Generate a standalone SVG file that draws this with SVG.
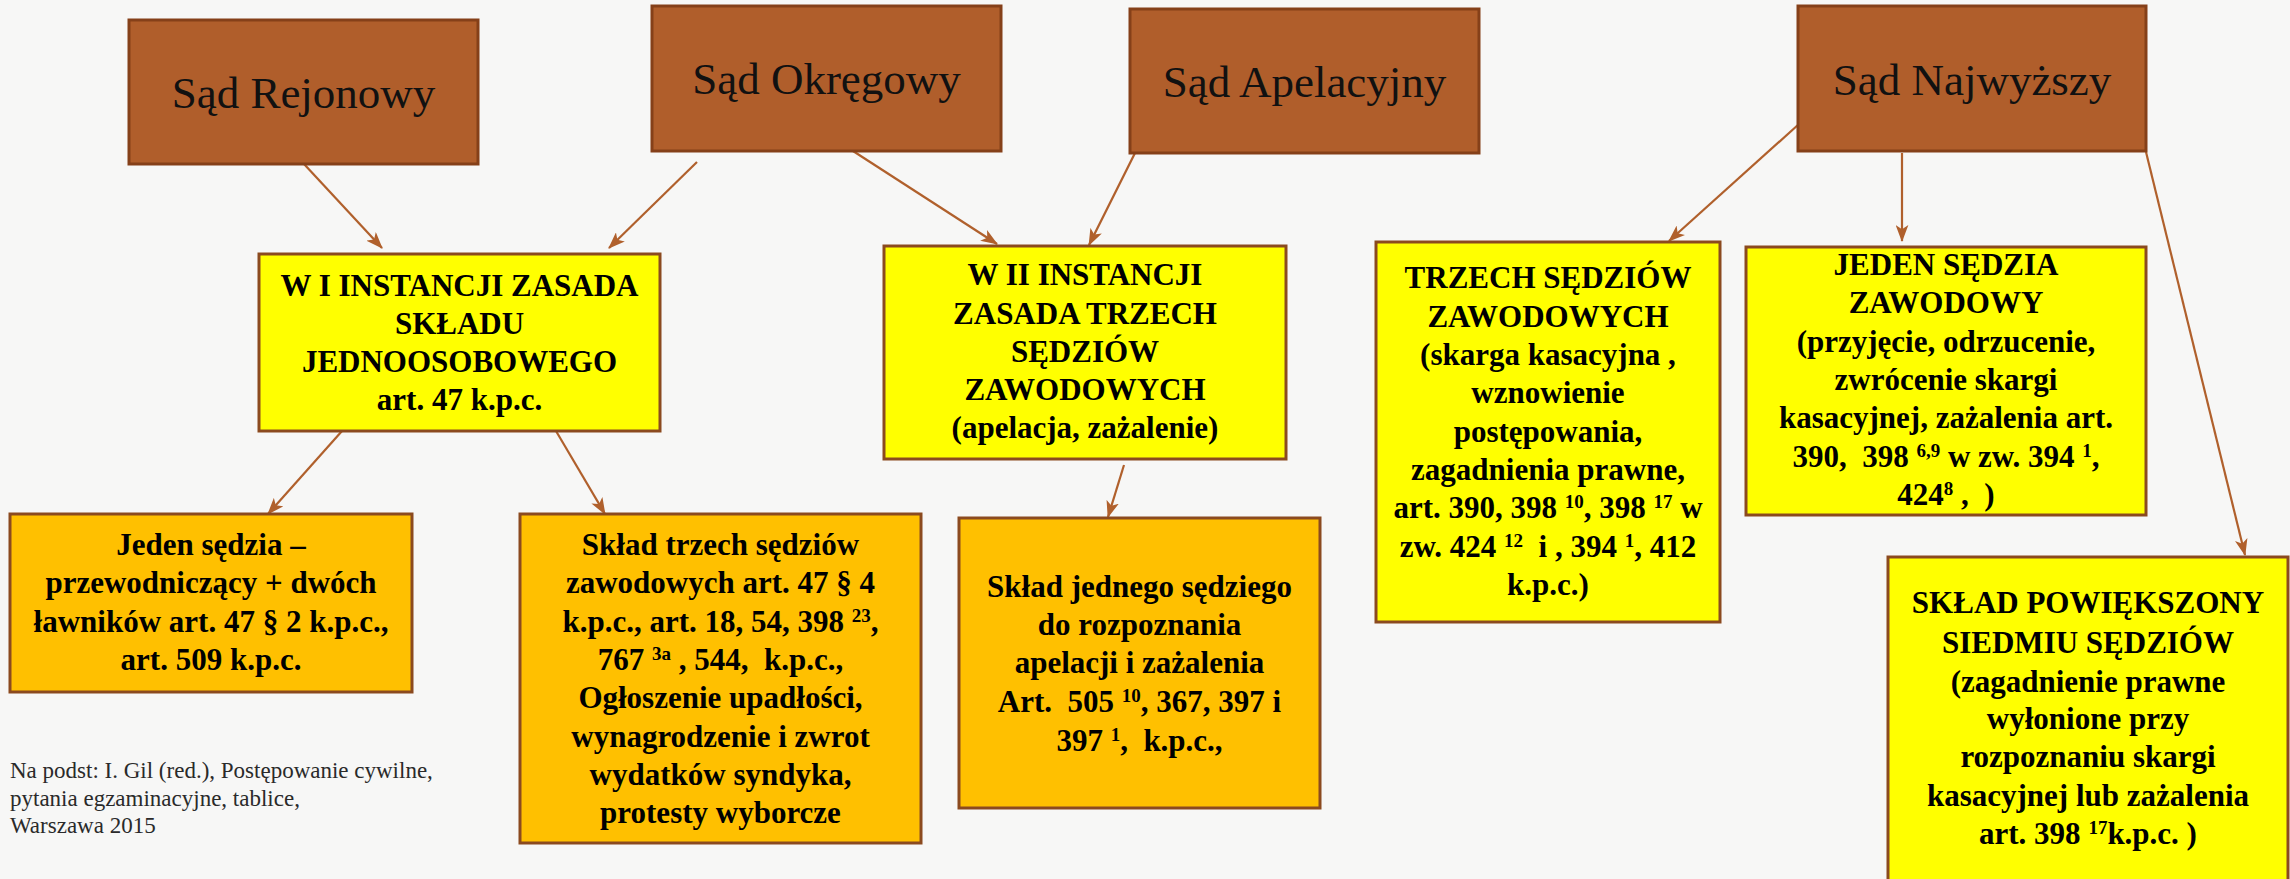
<svg xmlns="http://www.w3.org/2000/svg" width="2290" height="879" viewBox="0 0 2290 879">
<defs>
<style>
.court rect{fill:#B05E2B;stroke:#854019;stroke-width:3}
.court text{font-family:"Liberation Serif",serif;font-size:45px;fill:#111;text-anchor:middle}
.yel rect{fill:#FFFF00;stroke:#8B4A1F;stroke-width:3}
.org rect{fill:#FFC000;stroke:#8B4A1F;stroke-width:3}
.box text{font-family:"Liberation Serif",serif;font-size:31px;font-weight:bold;fill:#000;text-anchor:middle;white-space:pre}
.sup{font-size:19px}
.conn line{stroke:#B0602C;stroke-width:2.2;marker-end:url(#ah)}
.note{font-family:"Liberation Serif",serif;font-size:23px;fill:#2a2a2a}
</style>
<marker id="ah" viewBox="0 0 16 12" refX="15" refY="6" markerWidth="17" markerHeight="13" markerUnits="userSpaceOnUse" orient="auto">
<path d="M0,0 L16,6 L0,12 L4,6 z" fill="#B0602C"/>
</marker>
</defs>
<rect x="0" y="0" width="2290" height="879" fill="#F7F7F6"/>

<g id="connectors" class="conn">
<line x1="304" y1="164" x2="382" y2="248"/>
<line x1="697" y1="162" x2="609" y2="248"/>
<line x1="853" y1="151" x2="997" y2="244"/>
<line x1="1135" y1="153" x2="1089" y2="245"/>
<line x1="1799" y1="124" x2="1669" y2="241"/>
<line x1="1902" y1="153" x2="1902" y2="241"/>
<line x1="2146" y1="152" x2="2245" y2="555"/>
<line x1="342" y1="431" x2="268" y2="514"/>
<line x1="556" y1="431" x2="605" y2="514"/>
<line x1="1124" y1="465" x2="1108" y2="517"/>
</g>

<g id="sad-rejonowy" class="court">
<rect x="129" y="20" width="349" height="144"/>
<text x="303.5" y="108">Sąd Rejonowy</text>
</g>
<g id="sad-okregowy" class="court">
<rect x="652" y="6" width="349" height="145"/>
<text x="826.5" y="94">Sąd Okręgowy</text>
</g>
<g id="sad-apelacyjny" class="court">
<rect x="1130" y="9" width="349" height="144"/>
<text x="1304.5" y="97">Sąd Apelacyjny</text>
</g>
<g id="sad-najwyzszy" class="court">
<rect x="1798" y="6" width="348" height="145"/>
<text x="1972" y="94.5">Sąd Najwyższy</text>
</g>

<g id="i-instancja" class="box yel">
<rect x="259" y="254" width="401" height="177"/>
<text x="459.5" y="296">W I INSTANCJI ZASADA</text>
<text x="459.5" y="334">SKŁADU</text>
<text x="459.5" y="372">JEDNOOSOBOWEGO</text>
<text x="459.5" y="410">art. 47 k.p.c.</text>
</g>

<g id="ii-instancja" class="box yel">
<rect x="884" y="246" width="402" height="213"/>
<text x="1085" y="285">W II INSTANCJI</text>
<text x="1085" y="324">ZASADA TRZECH</text>
<text x="1085" y="362">SĘDZIÓW</text>
<text x="1085" y="400">ZAWODOWYCH</text>
<text x="1085" y="438">(apelacja, zażalenie)</text>
</g>

<g id="jeden-sedzia-lawnicy" class="box org">
<rect x="10" y="514" width="402" height="178"/>
<text x="211" y="555">Jeden sędzia –</text>
<text x="211" y="593">przewodniczący + dwóch</text>
<text x="211" y="632">ławników art. 47 § 2 k.p.c.,</text>
<text x="211" y="670">art. 509 k.p.c.</text>
</g>

<g id="sklad-trzech" class="box org">
<rect x="520" y="514" width="401" height="329"/>
<text x="720.5" y="555">Skład trzech sędziów</text>
<text x="720.5" y="593">zawodowych art. 47 § 4</text>
<text x="720.5" y="632">k.p.c., art. 18, 54, 398 <tspan class="sup" baseline-shift="super">23</tspan>,</text>
<text x="720.5" y="670">767 <tspan class="sup" baseline-shift="super">3a</tspan> , 544,  k.p.c.,</text>
<text x="720.5" y="708">Ogłoszenie upadłości,</text>
<text x="720.5" y="747">wynagrodzenie i zwrot</text>
<text x="720.5" y="785">wydatków syndyka,</text>
<text x="720.5" y="823">protesty wyborcze</text>
</g>

<g id="sklad-jednego" class="box org">
<rect x="959" y="518" width="361" height="290"/>
<text x="1139.5" y="597">Skład jednego sędziego</text>
<text x="1139.5" y="635">do rozpoznania</text>
<text x="1139.5" y="673">apelacji i zażalenia</text>
<text x="1139.5" y="712">Art.  505 <tspan class="sup" baseline-shift="super">10</tspan>, 367, 397 i</text>
<text x="1139.5" y="751">397 <tspan class="sup" baseline-shift="super">1</tspan>,  k.p.c.,</text>
</g>

<g id="trzech-sedziow-sn" class="box yel">
<rect x="1376" y="242" width="344" height="380"/>
<text x="1548" y="288">TRZECH SĘDZIÓW</text>
<text x="1548" y="327">ZAWODOWYCH</text>
<text x="1548" y="365">(skarga kasacyjna ,</text>
<text x="1548" y="403">wznowienie</text>
<text x="1548" y="442">postępowania,</text>
<text x="1548" y="480">zagadnienia prawne,</text>
<text x="1548" y="518">art. 390, 398 <tspan class="sup" baseline-shift="super">10</tspan>, 398 <tspan class="sup" baseline-shift="super">17</tspan> w</text>
<text x="1548" y="557">zw. 424 <tspan class="sup" baseline-shift="super">12</tspan>  i , 394 <tspan class="sup" baseline-shift="super">1</tspan>, 412</text>
<text x="1548" y="595">k.p.c.)</text>
</g>

<g id="jeden-sedzia-sn" class="box yel">
<rect x="1746" y="247" width="400" height="268"/>
<text x="1946" y="275">JEDEN SĘDZIA</text>
<text x="1946" y="313">ZAWODOWY</text>
<text x="1946" y="352">(przyjęcie, odrzucenie,</text>
<text x="1946" y="390">zwrócenie skargi</text>
<text x="1946" y="428">kasacyjnej, zażalenia art.</text>
<text x="1946" y="467">390,  398 <tspan class="sup" baseline-shift="super">6,9</tspan> w zw. 394 <tspan class="sup" baseline-shift="super">1</tspan>,</text>
<text x="1946" y="505">424<tspan class="sup" baseline-shift="super">8</tspan> ,  )</text>
</g>

<g id="sklad-powiekszony" class="box yel">
<rect x="1888" y="557" width="400" height="335"/>
<text x="2088" y="613">SKŁAD POWIĘKSZONY</text>
<text x="2088" y="653">SIEDMIU SĘDZIÓW</text>
<text x="2088" y="692">(zagadnienie prawne</text>
<text x="2088" y="729">wyłonione przy</text>
<text x="2088" y="767">rozpoznaniu skargi</text>
<text x="2088" y="806">kasacyjnej lub zażalenia</text>
<text x="2088" y="844">art. 398 <tspan class="sup" baseline-shift="super">17</tspan>k.p.c. )</text>
</g>

<g id="zrodlo">
<text class="note" x="10" y="778">Na podst: I. Gil (red.), Postępowanie cywilne,</text>
<text class="note" x="10" y="806">pytania egzaminacyjne, tablice,</text>
<text class="note" x="10" y="833">Warszawa 2015</text>
</g>
</svg>
